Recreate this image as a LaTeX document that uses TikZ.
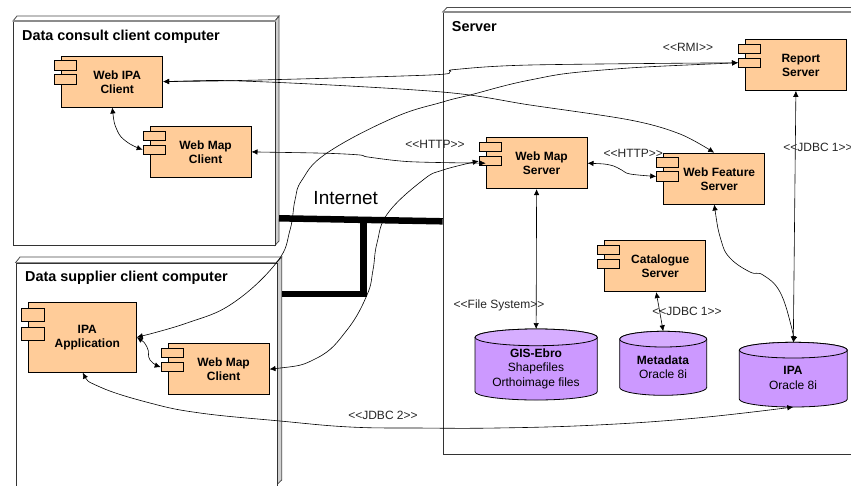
\documentclass[tikz,border=0pt]{standalone}
\usepackage{fontspec}
\setmainfont{Liberation Sans}
\usetikzlibrary{arrows.meta}
\definecolor{compfill}{HTML}{FFCC99}
\definecolor{dbfill}{HTML}{CC99FF}
\definecolor{dbtop}{HTML}{D6ADFF}
\definecolor{sideband}{HTML}{D0D0D0}
\tikzset{
  x=1pt,y=-1pt,
  comp/.style={draw=black,fill=compfill,line width=.8pt,inner sep=0pt,anchor=north west,minimum width=101pt,minimum height=51pt},
  tabbox/.style={draw=black,fill=compfill,line width=.8pt,inner sep=0pt,anchor=north west,minimum width=22pt,minimum height=9.5pt},
  lbl/.style={font=\fontsize{12}{14}\selectfont\bfseries,align=center,inner sep=0pt},
  proto/.style={font=\fontsize{12}{14}\selectfont,inner sep=0pt,text=black!85},
  title/.style={font=\fontsize{14.4}{16}\selectfont\bfseries,anchor=west,inner sep=0pt},
  front/.style={draw=black!80,fill=white,line width=.8pt,inner sep=0pt,anchor=north west},
  topface/.style={draw=black!70,fill=white,line width=.8pt},
  sideface/.style={draw=black!70,fill=sideband,line width=.8pt},
  topband/.style={draw=black!45,line width=1.6pt},
  dbshape/.style={draw=black,line width=.8pt},
  dbnode/.style={inner sep=0pt,anchor=north west,outer sep=0pt},
  dblbl/.style={font=\fontsize{12}{14.3}\selectfont,align=center,inner sep=0pt},
  link/.style={line width=.6pt,black,{Latex[length=6pt,width=5.5pt]}-{Latex[length=6pt,width=5.5pt]}},
  net/.style={line width=6.5pt,black},
}
% name, x, y, text (standard body and tabs)
\newcommand{\comp}[4]{%
  \node[comp] (#1) at (#2,#3) {};
  \node[tabbox] (#1-a) at ([xshift=-7pt,yshift=-4.6pt]#1.north west) {};
  \node[tabbox] (#1-b) at ([xshift=-7pt,yshift=-18.6pt]#1.north west) {};
  \node[lbl] (#1-text) at ([xshift=5pt,yshift=-.5pt]#1.center) {#4};
}
% name, x1, y1, x2, y2, ellipse height, label x, label y, text
\newcommand{\db}[9]{%
  \pgfmathsetmacro\rx{(#4-#2)/2}%
  \pgfmathsetmacro\ry{#6/2}%
  \pgfmathsetmacro\ya{#3+#6/2}%
  \pgfmathsetmacro\yb{#5-#6/2}%
  \pgfmathsetmacro\cx{(#2+#4)/2}%
  \pgfmathsetmacro\bw{#4-#2}%
  \pgfmathsetmacro\bh{#5-#3}%
  \node[dbnode,minimum width=\bw pt,minimum height=\bh pt] (#1) at (#2,#3) {};
  \draw[dbshape,fill=dbfill] (#2,\ya) -- (#2,\yb)
     arc[start angle=180,end angle=360,x radius=\rx pt,y radius=\ry pt]
     -- (#4,\ya) arc[start angle=0,end angle=180,x radius=\rx pt,y radius=\ry pt] -- cycle;
  \draw[dbshape,fill=dbtop] (\cx,\ya) ellipse[x radius=\rx pt,y radius=\ry pt];
  \node[dblbl] (#1-text) at (#7,#8) {#9};
}
\begin{document}
\begin{tikzpicture}
\clip (0,0) rectangle (851,485);
\fill[white] (0,0) rectangle (851,485);

% Data consult client computer
\draw[topface] (13,21) -- (17,16) -- (279,16) -- (275,21) -- cycle;
\draw[sideface] (275,21) -- (279,16) -- (279,241) -- (275,245.3) -- cycle;
\node[front,minimum width=262pt,minimum height=224.3pt] (consult) at (13,21) {};
\draw[topband] (consult.north west) -- (consult.north east);
\node[title] (consult-title) at (22,36.3) {Data consult client computer};

% Data supplier client computer
\draw[topface] (15.7,262.5) -- (20,257) -- (281.7,257) -- (276.5,262.5) -- cycle;
\draw[sideface] (276.5,262.5) -- (281.7,257) -- (281.7,480) -- (276.5,485) -- cycle;
\node[front,minimum width=260.8pt,minimum height=240pt] (supplier) at (15.7,262.5) {};
\draw[topband] (supplier.north west) -- (supplier.north east);
\node[title] (supplier-title) at (25,277.3) {Data supplier client computer};

% Server
\draw[topface] (442.7,12) -- (447,7.5) -- (870,7.5) -- (870,12) -- cycle;
\node[front,minimum width=430pt,minimum height=442pt] (server) at (442.7,12) {};
\draw[topband] (server.north west) -- (server.north east);
\node[title] (server-title) at (451.7,27) {Server};

% Internet
\coordinate (n1) at (279,218.3);
\coordinate (n2) at (442.7,221.3);
\coordinate (n3) at (363.3,220);
\coordinate (n4) at (363.3,293.8);
\coordinate (n5) at (281.7,293.8);
\draw[net] (n1) -- (n2);
\draw[net,line join=miter] (n3) -- (n4) -- (n5);
\node[font=\fontsize{19}{20}\selectfont,inner sep=0pt] (internet) at (345.7,198) {Internet};

% Components
\comp{wic}{61.3}{55.7}{Web IPA\\Client}
\comp{wmc}{149.7}{126}{Web Map\\Client}
\comp{wmc2}{167.7}{343.3}{Web Map\\Client}
\comp{rs}{745}{39}{Report\\Server}
\comp{wms}{485.7}{137.3}{Web Map\\Server}
\comp{wfs}{663.3}{152.7}{Web Feature\\Server}
\comp{cs}{604.3}{240.3}{Catalogue\\Server}

% IPA application (taller)
\node[comp,minimum width=107.7pt,minimum height=70.3pt] (ipa) at (28.3,301.7) {};
\node[tabbox,minimum width=23.6pt,minimum height=12.7pt] (ipa-a) at (20.7,308.3) {};
\node[tabbox,minimum width=23.6pt,minimum height=12.7pt] (ipa-b) at (20.7,327.3) {};
\node[lbl] (ipa-text) at (87.3,338) {IPA\\Application};

% Databases
\db{gis}{475}{329}{597.3}{400}{16.7}{536}{368.7}{\textbf{GIS-Ebro}\\Shapefiles\\Orthoimage files}
\db{meta}{619.7}{331.3}{706.7}{395.3}{15.7}{663}{367}{\textbf{Metadata}\\Oracle 8i}
\db{ipadb}{739.3}{342.3}{847.3}{407}{15.7}{793}{378}{\textbf{IPA}\\Oracle 8i}

% Connectors
\draw[link] plot[smooth,tension=.7] coordinates {(wic.south) (117,130) (127,142) (wmc-b.west)};
\draw[link] plot[smooth,tension=.55] coordinates {(wic.east) (260,80) (430,75) (450,71.7) (455,69.5) (530,65) (rs-b.west)};
\draw[link] plot[smooth,tension=.55] coordinates {(wic.east) (260,81.7) (442,92) (530,105) (630,120) (680,134) (wfs.north)};
\draw[link] plot[smooth,tension=.7] coordinates {(rs-b.west) (597,70.5) (530,80) (470,95) (442.7,102) (393,118) (327,153) (302,180) (295,200) (290,230) (277,262) (233,303) (187,323) (ipa.east)};
\draw[link] plot[smooth,tension=.5] coordinates {(wmc.east) (327,153.3) (360,155) (368,157) (410,161.7) (wms.west)};
\draw[link] plot[smooth,tension=.7] coordinates {(wmc2.east) (317,358) (347,330) (367,295) (373,270) (377,243) (388,213) (423,180) (443,170) (wms-b.west)};
\draw[link] plot[smooth,tension=.6] coordinates {(wms.east) (610,165) (621.7,170) (630,174) (wfs-b.west)};
\draw[link] (wms.south) -- (gis.north);
\draw[link] (rs.south) -- (ipadb.north);
\draw[link] plot[smooth,tension=.7] coordinates {(wfs.south) (721,240) (730,258) (750,272) (763,275) (780,292) (791.7,328) (ipadb.north)};
\draw[link] (cs.south) ++(1,0) coordinate (cs-s) (cs-s) -- (meta.north);
\draw[link] plot[smooth,tension=.7] coordinates {(82.7,372.6) (100,387) (150,403) (200,413) (280,421) (350,427) (417,428) (497,428) (597,425) (697,418) (ipadb.south)};
\draw[link] plot[smooth,tension=.8] coordinates {(ipa.east) (147,347) (150,360) (wmc2-b.west)};

% Protocol labels
\node[proto] (l-rmi) at (688,47.3) {<{}<RMI>{}>};
\node[proto] (l-http1) at (435,144) {<{}<HTTP>{}>};
\node[proto] (l-http2) at (633.3,153) {<{}<HTTP>{}>};
\node[proto] (l-jdbc1) at (818,147.7) {<{}<JDBC 1>{}>};
\node[proto] (l-file) at (499,305) {<{}<File System>{}>};
\node[proto] (l-jdbc1b) at (687,311.7) {<{}<JDBC 1>{}>};
\node[proto] (l-jdbc2) at (383,415) {<{}<JDBC 2>{}>};
\end{tikzpicture}
\end{document}
